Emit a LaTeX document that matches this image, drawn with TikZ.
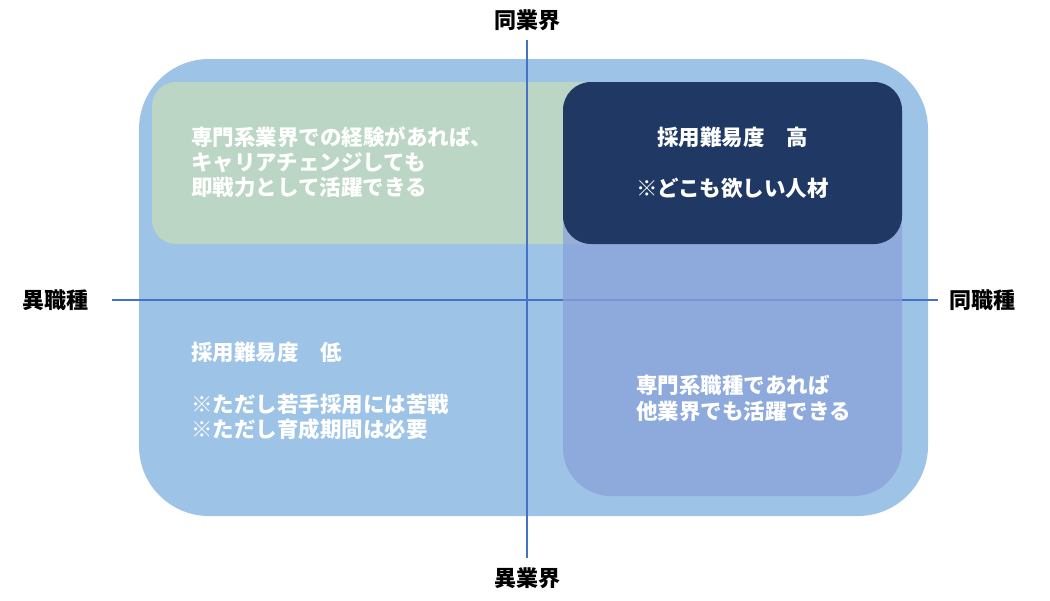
\documentclass[tikz,border=0pt]{standalone}
\usepackage{fontspec}
\setmainfont{Noto Sans CJK JP}
\definecolor{outerblue}{RGB}{157,195,230}
\definecolor{softgreen}{RGB}{187,214,197}
\definecolor{navy}{RGB}{32,56,100}
\definecolor{lavblue}{RGB}{138,162,217}
\definecolor{axisblue}{RGB}{68,114,196}
\begin{document}
\begin{tikzpicture}[x=1pt,y=-1pt,
  panel/.style={draw=none, inner sep=0pt, outer sep=0pt, anchor=north west},
  wtext/.style={text=white, font=\fontsize{21.5}{25}\selectfont\bfseries, inner sep=0pt},
  axislbl/.style={text=black, font=\fontsize{22}{26}\selectfont\bfseries, inner sep=0pt},
  axisline/.style={draw=axisblue, line width=2.2pt}]
\useasboundingbox (0,0) rectangle (1050,600);
% outer panel
\node[panel, fill=outerblue, rounded corners=70pt, minimum width=789pt, minimum height=457pt] (outer) at (139,59) {};
% green panel
\node[panel, fill=softgreen, rounded corners=24pt, minimum width=470pt, minimum height=162pt] (green) at (152,82) {};
% axes
\coordinate (vtop) at (527,40);
\coordinate (vbot) at (527,558);
\coordinate (hleft) at (112,300);
\coordinate (hright) at (938,300);
\draw[axisline] (vtop) -- (vbot);
\draw[axisline] (hleft) -- (hright);
% lavender panel
\node[panel, fill=lavblue, fill opacity=0.75, rounded corners=48pt, minimum width=339pt, minimum height=414pt] (lav) at (563,82) {};
% navy panel
\node[panel, fill=navy, rounded corners=28pt, minimum width=339pt, minimum height=162pt] (dark) at (563,82) {};
% texts
\node[wtext, anchor=west, align=left] (tgreen) at (191,162) {専門系業界での経験があれば、\\キャリアチェンジしても\\即戦力として活躍できる};
\node[wtext, align=center] (tdark) at (732.5,162.5) {採用難易度　高\\[26pt]※どこも欲しい人材};
\node[wtext, anchor=west, align=left] (tlow) at (191,391) {採用難易度　低\\[27pt]※ただし若手採用には苦戦\\※ただし育成期間は必要};
\node[wtext, anchor=west, align=left] (tlav) at (636,398.5) {専門系職種であれば\\[1.5pt]他業界でも活躍できる};
% axis labels
\node[axislbl] (ltop) at (527,20) {同業界};
\node[axislbl] (lbot) at (527,578) {異業界};
\node[axislbl] (lleft) at (55,300) {異職種};
\node[axislbl] (lright) at (982,300) {同職種};
\end{tikzpicture}
\end{document}
